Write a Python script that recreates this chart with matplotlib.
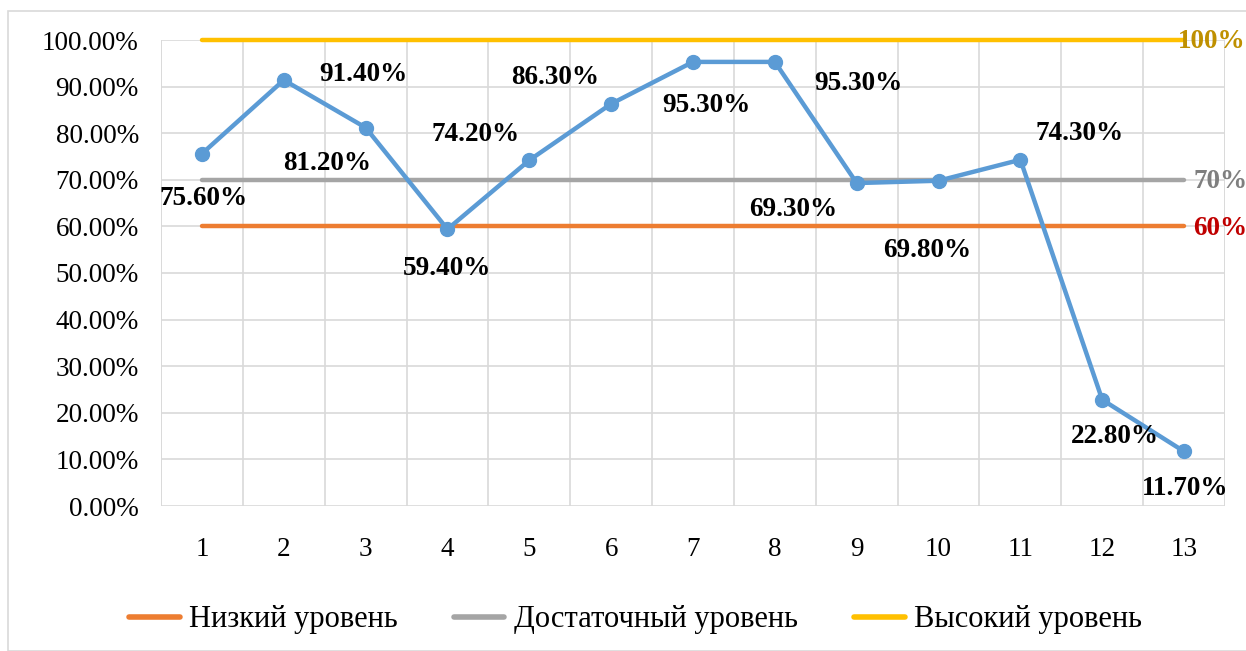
import matplotlib
matplotlib.use("Agg")
import matplotlib.pyplot as plt
from matplotlib.patches import Rectangle
from matplotlib.ticker import FuncFormatter, MultipleLocator

plt.rcParams["font.family"] = ["Liberation Serif", "DejaVu Serif"]

# data
categories = list(range(1, 14))
results = [75.6, 91.4, 81.2, 59.4, 74.2, 86.3, 95.3, 95.3, 69.3, 69.8, 74.3, 22.8, 11.7]
low_level = [60] * 13
sufficient_level = [70] * 13
high_level = [100] * 13
level_names = ["Низкий уровень", "Достаточный уровень", "Высокий уровень"]
level_tags = ["60%", "70%", "100%"]

# label placement (pixel offsets from each point, as in the source image)
label_offsets = [(2, -45), (80, 6), (-38, -36), (0, -39), (-54, 26), (-56, 26),
                 (13, -44), (84, -22), (-64, -26), (-11, -70), (59, 26), (13, -37),
                 (1, -37)]

fig = plt.figure(figsize=(12.46, 6.51), dpi=100)
fig.patches.append(Rectangle((8 / 1246, 0), 1.0, 1 - 11 / 651, transform=fig.transFigure,
                             fill=False, edgecolor="#D9D9D9", linewidth=1.2))
ax = fig.add_axes([161 / 1246, 1 - 506 / 651, (1225 - 161) / 1246, (506 - 40) / 651])

lw = 3.2
for level, col, name in zip([low_level, sufficient_level, high_level],
                            ["#ED7D31", "#A5A5A5", "#FFC000"], level_names):
    ax.plot(categories, level, color=col, lw=lw, solid_capstyle="round", zorder=3,
            label=name, clip_on=False)
ax.plot(categories, results, color="#5B9BD5", lw=lw, marker="o", markersize=10, zorder=4,
        clip_on=False)

for x, y, (dx, dy) in zip(categories, results, label_offsets):
    ax.annotate(f"{y:.2f}%", (x, y), xytext=(dx, dy), textcoords="offset pixels",
                ha="center", va="center", fontsize=19.5, fontweight="bold", color="black",
                zorder=5, annotation_clip=False)

tag_colors = ["#C00000", "#7F7F7F", "#BF9000"]
tag_dx = [9, 9, -6]
for level, tag, col, dx in zip([low_level, sufficient_level, high_level], level_tags,
                               tag_colors, tag_dx):
    ax.annotate(tag, (categories[-1], level[-1]), xytext=(dx, -2), textcoords="offset pixels",
                ha="left", va="center", fontsize=19.5, fontweight="bold", color=col,
                zorder=5, annotation_clip=False)

ax.set_xlim(0.5, 13.5)
ax.set_ylim(0, 100)
ax.set_xticks(categories)
ax.set_xticklabels([str(c) for c in categories])
ax.xaxis.set_minor_locator(MultipleLocator(1, offset=0.5))
ax.yaxis.set_major_locator(MultipleLocator(10))
ax.yaxis.set_major_formatter(FuncFormatter(lambda v, _: f"{v:.2f}%"))
ax.grid(False, axis="x", which="major")
ax.grid(True, axis="x", which="minor", color="#D9D9D9", lw=1.2)
ax.grid(True, axis="y", which="major", color="#D9D9D9", lw=1.2)
ax.axvline(0.5, color="#D9D9D9", lw=1.2, zorder=1)
ax.axvline(13.5, color="#D9D9D9", lw=1.2, zorder=1)
ax.set_axisbelow(True)
for s in ax.spines.values():
    s.set_visible(False)
ax.tick_params(axis="both", which="both", length=0, labelsize=19.5, colors="black")
ax.tick_params(axis="x", pad=22)
ax.tick_params(axis="y", pad=16)

leg = fig.legend(loc="center", bbox_to_anchor=(0.51, 1 - 620 / 651), ncol=3, frameon=False,
                 fontsize=22, handlelength=1.65, columnspacing=1.85, handletextpad=0.3)
for line in leg.get_lines():
    line.set_linewidth(4)

fig.savefig("out.png", dpi=100)
